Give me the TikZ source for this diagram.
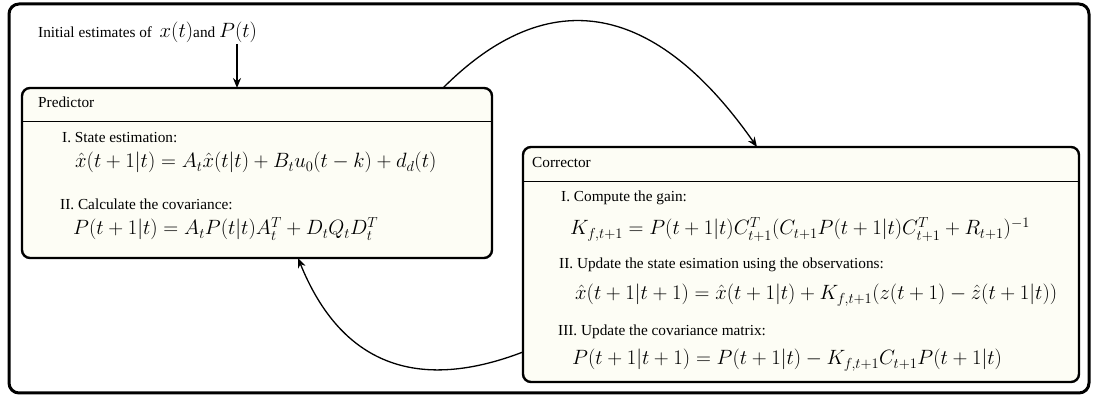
\RequirePackage{fix-cm}
\documentclass[tikz,border=0pt]{standalone}
\usepackage{fontspec}
\setmainfont{Liberation Serif}
\usetikzlibrary{arrows.meta,calc}
\definecolor{cream}{RGB}{253,253,245}
\newcommand\eqfont{\fontsize{20.7}{25}\selectfont}
\newcommand\txtfont{\fontsize{15.3}{18}\selectfont}
\begin{document}
\begin{tikzpicture}[x=1pt,y=1pt,
  frame/.style={draw, line width=3pt, rounded corners=10pt, inner sep=0pt, outer sep=0pt},
  panel/.style={draw, fill=cream, line width=2.4pt, rounded corners=8pt, inner sep=0pt, outer sep=0pt},
  txt/.style={anchor=base west, inner sep=0pt, font=\txtfont},
  eq/.style={anchor=base west, inner sep=0pt, font=\eqfont},
  arr/.style={-{Stealth[length=10pt,width=8pt]}, line width=1.3pt},
  sepline/.style={line width=1pt}]
\useasboundingbox (0,0) rectangle (1093,398);
\node[frame, minimum width=1080pt, minimum height=389pt] (frame) at (549,199.5) {};

% Predictor box
\node[panel, minimum width=470pt, minimum height=170pt] (pred) at (257,225) {};
\draw[sepline] ($(pred.north west)+(0,-34)$) -- ($(pred.north east)+(0,-34)$);
\node[txt] (ptitle) at (38,290) {Predictor};
\node[txt] (p1) at (62,255) {I. State estimation:};
\node[eq] (pe1) at (75,230) {$\hat{x}(t+1|t)=A_t\hat{x}(t|t)+B_tu_0(t-k)+d_d(t)$};
\node[txt] (p2) at (60,188) {II. Calculate the covariance:};
\node[eq] (pe2) at (73,163) {$P(t+1|t)=A_tP(t|t)A_t^T+D_tQ_tD_t^T$};

% Corrector box
\node[panel, minimum width=556pt, minimum height=235pt] (corr) at (801,133.5) {};
\draw[sepline] ($(corr.north west)+(0,-35)$) -- ($(corr.north east)+(0,-35)$);
\node[txt] (ctitle) at (532,230) {Corrector};
\node[txt] (c1) at (561,196) {I. Compute the gain:};
\node[eq] (ce1) at (570,163) {$K_{f,t+1}=P(t+1|t)C_{t+1}^T(C_{t+1}P(t+1|t)C_{t+1}^T+R_{t+1})^{-1}$};
\node[txt] (c2) at (559,129) {II. Update the state esimation using the observations:};
\node[eq] (ce2) at (575,98) {$\hat{x}(t+1|t+1)=\hat{x}(t+1|t)+K_{f,t+1}(z(t+1)-\hat{z}(t+1|t))$};
\node[txt] (c3) at (558,62) {III. Update the covariance matrix:};
\node[eq] (ce3) at (572,33) {$P(t+1|t+1)=P(t+1|t)-K_{f,t+1}C_{t+1}P(t+1|t)$};

% Initial estimates
\node[txt] (init) at (38,360) {Initial estimates of\enspace{\eqfont$x(t)$}and {\eqfont$P(t)$}};
\coordinate (istart) at (237,354);
\draw[arr] (istart) -- (istart |- pred.north);

% Loop arrows
\coordinate (pout) at (443,310);
\coordinate (cin) at (757,251);
\draw[arr] (pout) to[out=45, in=125, looseness=1.3] (cin);
\coordinate (cout) at (523,46);
\coordinate (pin) at (298,140);
\draw[arr] (cout) to[out=201, in=-68, looseness=1.2] (pin);
\end{tikzpicture}
\end{document}
